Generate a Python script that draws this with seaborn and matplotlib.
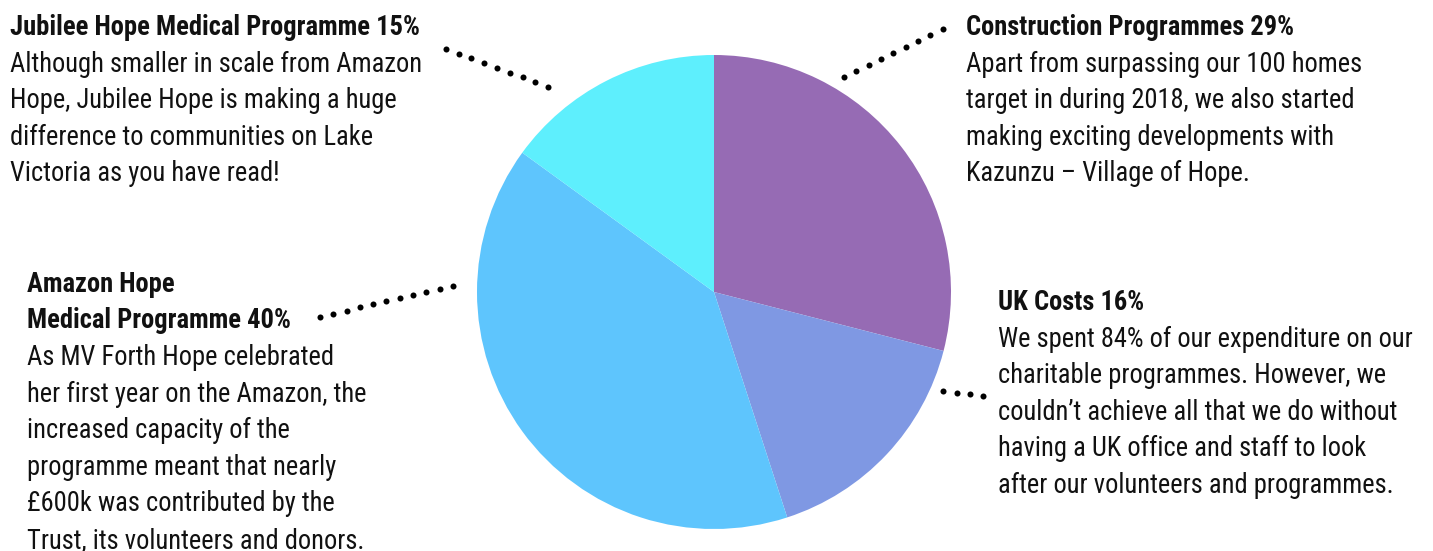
import seaborn as sns
import matplotlib
matplotlib.use('Agg')
import matplotlib.pyplot as plt
from matplotlib import font_manager
import numpy as np

# programme split of expenditure
categories = ['Construction Programmes', 'UK Costs', 'Amazon Hope Medical Programme', 'Jubilee Hope Medical Programme']
shares = [29, 16, 40, 15]
colors = ['#966BB4', '#7F98E3', '#5EC5FD', '#5EEFFD']

titles = {
    'jubilee': ['Jubilee Hope Medical Programme 15%'],
    'construction': ['Construction Programmes 29%'],
    'amazon': ['Amazon Hope', 'Medical Programme 40%'],
    'uk': ['UK Costs 16%'],
}
bodies = {
    'jubilee': ['Although smaller in scale from Amazon',
                'Hope, Jubilee Hope is making a huge',
                'difference to communities on Lake',
                'Victoria as you have read!'],
    'construction': ['Apart from surpassing our 100 homes',
                     'target in during 2018, we also started',
                     'making exciting developments with',
                     'Kazunzu \u2013 Village of Hope.'],
    'amazon': ['As MV Forth Hope celebrated',
               'her first year on the Amazon, the',
               'increased capacity of the',
               'programme meant that nearly',
               '\u00a3600k was contributed by the',
               'Trust, its volunteers and donors.'],
    'uk': ['We spent 84% of our expenditure on our',
           'charitable programmes. However, we',
           'couldn\u2019t achieve all that we do without',
           'having a UK office and staff to look',
           'after our volunteers and programmes.'],
}

sns.set_theme(style='white')
available = {f.name for f in font_manager.fontManager.ttflist}
font = 'Roboto Condensed' if 'Roboto Condensed' in available else 'Roboto'
plt.rcParams['font.family'] = [font, 'DejaVu Sans']

W, H = 1433, 551
fig = plt.figure(figsize=(W / 100, H / 100), dpi=100)
fig.patch.set_facecolor('white')

# pie, centre (714, 292) px, radius 237 px
cx, cy, r = 714, 292, 237
ax = fig.add_axes([(cx - r) / W, (H - cy - r) / H, 2 * r / W, 2 * r / H])
ax.pie(shares, colors=colors, startangle=90, counterclock=False, radius=1,
       wedgeprops=dict(linewidth=0))
ax.set_xlim(-1, 1)
ax.set_ylim(-1, 1)
ax.axis('off')

# overlay in pixel coordinates for text and dotted leaders
ov = fig.add_axes([0, 0, 1, 1], facecolor='none')
ov.set_xlim(0, W)
ov.set_ylim(H, 0)
ov.axis('off')

fs = 19.1
step = 36.6
blocks = {
    'jubilee': (10, 35),
    'construction': (966, 35),
    'amazon': (27, 291.7),
    'uk': (998, 310),
}
for key, (x0, y0) in blocks.items():
    y = y0
    for line in titles[key]:
        ov.text(x0, y, line, fontsize=fs, fontweight='bold', color='#111111', va='baseline', ha='left')
        y += step
    for line in bodies[key]:
        ov.text(x0, y, line, fontsize=fs, color='#111111', va='baseline', ha='left')
        y += step

leaders = [
    ((445.7, 49), (548.3, 86.7), 9),
    ((844, 77.3), (942.7, 29), 9),
    ((320, 316.7), (453, 286), 11),
    ((943.3, 391), (983.3, 396), 4),
]
for (x1, y1), (x2, y2), n in leaders:
    ov.scatter(np.linspace(x1, x2, n), np.linspace(y1, y2, n), s=19, color='black', linewidths=0)

fig.savefig('out.png', dpi=100, facecolor='white')
